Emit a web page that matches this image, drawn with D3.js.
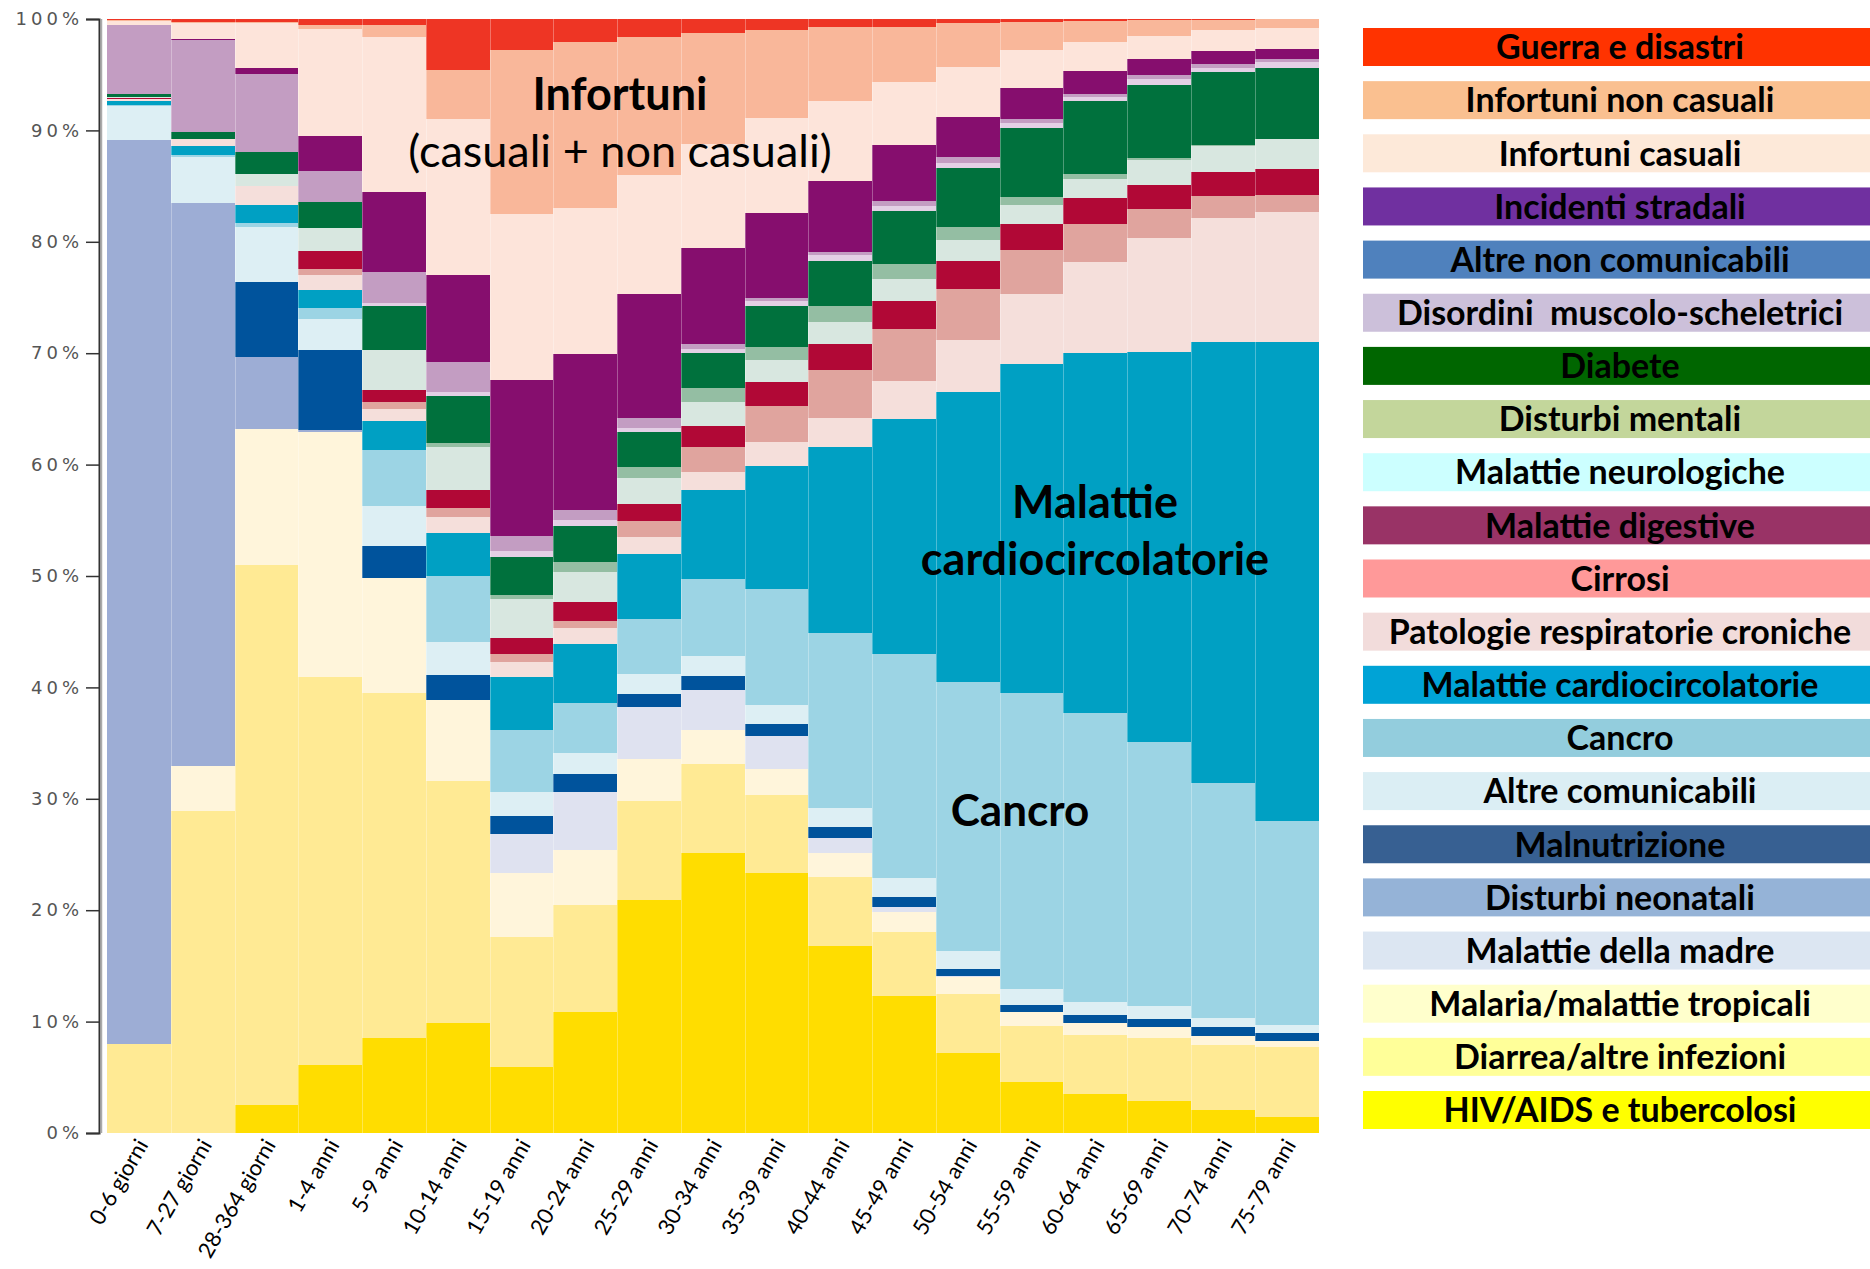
<!DOCTYPE html>
<html>
<head>
<meta charset="utf-8">
<script src="https://cdn.jsdelivr.net/npm/d3@7/dist/d3.min.js"></script>
<style>
  html, body { margin: 0; padding: 0; background: #ffffff; }
  svg { display: block; }
</style>
</head>
<body>
<svg id="chart"></svg>
<script>
// age groups (x categories)
const ageGroups = ["0-6 giorni", "7-27 giorni", "28-364 giorni", "1-4 anni", "5-9 anni", "10-14 anni",
  "15-19 anni", "20-24 anni", "25-29 anni", "30-34 anni", "35-39 anni", "40-44 anni", "45-49 anni",
  "50-54 anni", "55-59 anni", "60-64 anni", "65-69 anni", "70-74 anni", "75-79 anni"];

// share of deaths (%) per cause, one value per age group
const hivTb        = [0, 0, 2.5, 6.1, 8.5, 9.9, 5.9, 10.9, 20.9, 25.1, 23.3, 16.8, 12.3, 7.2, 4.6, 3.5, 2.9, 2.1, 1.4];
const diarrea      = [8, 28.9, 48.5, 34.8, 31.0, 21.7, 11.7, 9.6, 8.9, 8.0, 7.0, 6.2, 5.7, 5.3, 5.0, 5.3, 5.6, 5.8, 6.3];
const malaria      = [0, 4.0, 12.2, 22.0, 10.3, 7.3, 5.7, 4.9, 3.8, 3.1, 2.4, 2.1, 1.8, 1.5, 1.3, 1.1, 1.0, 0.8, 0.6];
const madre        = [0, 0, 0, 0, 0, 0, 3.5, 5.2, 4.6, 3.6, 2.9, 1.4, 0.5, 0.1, 0, 0, 0, 0, 0];
const neonatali    = [81.1, 50.6, 6.5, 0.2, 0, 0, 0, 0, 0, 0, 0, 0, 0, 0, 0, 0, 0, 0, 0];
const malnutrizione= [0, 0, 6.7, 7.2, 2.9, 2.2, 1.7, 1.6, 1.2, 1.2, 1.1, 1.0, 0.9, 0.6, 0.6, 0.7, 0.7, 0.8, 0.7];
const altreCom     = [3.1, 4.1, 4.9, 2.8, 3.6, 3.0, 2.1, 1.9, 1.8, 1.8, 1.7, 1.7, 1.7, 1.6, 1.4, 1.2, 1.2, 0.8, 0.7];
const cancro       = [0.1, 0.2, 0.4, 1.0, 5.0, 5.9, 5.6, 4.5, 4.9, 6.9, 10.4, 15.7, 20.1, 24.2, 26.6, 25.9, 23.7, 21.1, 18.3];
const cardio       = [0.3, 0.8, 1.6, 1.6, 2.6, 3.9, 4.7, 5.3, 5.9, 8.0, 11.1, 16.7, 21.1, 26.0, 29.5, 32.3, 35.0, 39.6, 43.0];
const respiratorie = [0.2, 0.6, 1.7, 1.3, 1.1, 1.4, 1.4, 1.4, 1.5, 1.6, 2.1, 2.6, 3.4, 4.7, 6.3, 8.2, 10.2, 11.1, 11.7];
const cirrosi      = [0, 0, 0, 0.6, 0.6, 0.8, 0.7, 0.7, 1.4, 2.3, 3.3, 4.3, 4.7, 4.6, 4.0, 3.4, 2.6, 2.0, 1.5];
const digestive    = [0.1, 0, 0, 1.6, 1.1, 1.6, 1.4, 1.7, 1.6, 1.9, 2.1, 2.3, 2.5, 2.5, 2.3, 2.3, 2.2, 2.2, 2.3];
const neurologiche = [0.1, 0, 1.1, 2.0, 3.6, 3.9, 3.5, 2.7, 2.3, 2.1, 2.0, 2.0, 2.0, 1.9, 1.7, 1.7, 2.2, 2.3, 2.7];
const mentali      = [0, 0, 0, 0, 0, 0.3, 0.4, 0.9, 1.0, 1.3, 1.2, 1.4, 1.3, 1.1, 0.7, 0.5, 0.2, 0.1, 0];
const diabete      = [0.3, 0.7, 2.0, 2.4, 3.9, 4.3, 3.4, 3.2, 3.1, 3.1, 3.6, 4.1, 4.8, 5.3, 6.2, 6.5, 6.6, 6.5, 6.4];
const muscolo      = [0, 0, 0, 0, 0.3, 0.3, 0.5, 0.5, 0.4, 0.4, 0.5, 0.5, 0.4, 0.5, 0.5, 0.4, 0.5, 0.4, 0.5];
const altreNonCom  = [6.2, 8.2, 7.0, 2.8, 2.8, 2.7, 1.4, 0.9, 0.9, 0.4, 0.3, 0.3, 0.5, 0.5, 0.3, 0.3, 0.4, 0.4, 0.3];
const stradali     = [0, 0.1, 0.5, 3.1, 7.2, 7.8, 14.0, 14.0, 11.1, 8.6, 7.6, 6.4, 5.0, 3.6, 2.8, 2.0, 1.4, 1.1, 0.9];
const infCasuali   = [0.3, 1.4, 4.0, 9.6, 13.9, 14.0, 14.9, 13.1, 10.7, 9.4, 8.5, 7.1, 5.6, 4.5, 3.4, 2.6, 2.1, 1.9, 1.9];
const infNonCasuali= [0.1, 0.1, 0.1, 0.4, 1.1, 4.4, 14.7, 14.9, 12.4, 9.9, 7.9, 6.7, 5.0, 3.9, 2.5, 1.9, 1.4, 0.9, 0.8];
const guerra       = [0.1, 0.3, 0.3, 0.5, 0.5, 4.6, 2.8, 2.1, 1.6, 1.3, 1.0, 0.7, 0.7, 0.4, 0.3, 0.2, 0.1, 0.1, 0];

const yTicks = [0, 0.1, 0.2, 0.3, 0.4, 0.5, 0.6, 0.7, 0.8, 0.9, 1];

// stacking order, bottom to top
const causes = [
  { key: "HIV/AIDS e tubercolosi", values: hivTb },
  { key: "Diarrea/altre infezioni", values: diarrea },
  { key: "Malaria/malattie tropicali", values: malaria },
  { key: "Malattie della madre", values: madre },
  { key: "Disturbi neonatali", values: neonatali },
  { key: "Malnutrizione", values: malnutrizione },
  { key: "Altre comunicabili", values: altreCom },
  { key: "Cancro", values: cancro },
  { key: "Malattie cardiocircolatorie", values: cardio },
  { key: "Patologie respiratorie croniche", values: respiratorie },
  { key: "Cirrosi", values: cirrosi },
  { key: "Malattie digestive", values: digestive },
  { key: "Malattie neurologiche", values: neurologiche },
  { key: "Disturbi mentali", values: mentali },
  { key: "Diabete", values: diabete },
  { key: "Disordini  muscolo-scheletrici", values: muscolo },
  { key: "Altre non comunicabili", values: altreNonCom },
  { key: "Incidenti stradali", values: stradali },
  { key: "Infortuni casuali", values: infCasuali },
  { key: "Infortuni non casuali", values: infNonCasuali },
  { key: "Guerra e disastri", values: guerra }
];

// colours used in the bars
const barColor = {
  "HIV/AIDS e tubercolosi": "#FFDD00",
  "Diarrea/altre infezioni": "#FFEA94",
  "Malaria/malattie tropicali": "#FFF5DB",
  "Malattie della madre": "#DFE2F0",
  "Disturbi neonatali": "#9DADD5",
  "Malnutrizione": "#00539C",
  "Altre comunicabili": "#DDEFF4",
  "Cancro": "#9CD4E4",
  "Malattie cardiocircolatorie": "#00A0C3",
  "Patologie respiratorie croniche": "#F5DFDB",
  "Cirrosi": "#E0A49E",
  "Malattie digestive": "#B10836",
  "Malattie neurologiche": "#D8E7E0",
  "Disturbi mentali": "#94BEA3",
  "Diabete": "#00713D",
  "Disordini  muscolo-scheletrici": "#E3D0E5",
  "Altre non comunicabili": "#C39DC2",
  "Incidenti stradali": "#860E6E",
  "Infortuni casuali": "#FDE4DA",
  "Infortuni non casuali": "#F9B79A",
  "Guerra e disastri": "#EE3524"
};

// colours used in the legend boxes
const legendColor = {
  "HIV/AIDS e tubercolosi": "#FFFF00",
  "Diarrea/altre infezioni": "#FFFF99",
  "Malaria/malattie tropicali": "#FFFFCC",
  "Malattie della madre": "#DCE6F2",
  "Disturbi neonatali": "#95B3D7",
  "Malnutrizione": "#376092",
  "Altre comunicabili": "#DBEEF4",
  "Cancro": "#93CDDD",
  "Malattie cardiocircolatorie": "#00A3D6",
  "Patologie respiratorie croniche": "#F2DCDB",
  "Cirrosi": "#FF9999",
  "Malattie digestive": "#993366",
  "Malattie neurologiche": "#CCFFFF",
  "Disturbi mentali": "#C3D69B",
  "Diabete": "#006600",
  "Disordini  muscolo-scheletrici": "#CCC0DA",
  "Altre non comunicabili": "#4F81BD",
  "Incidenti stradali": "#7030A0",
  "Infortuni casuali": "#FDE9D9",
  "Infortuni non casuali": "#FAC090",
  "Guerra e disastri": "#FF3300"
};

const width = 1870, height = 1269;
const plot = { left: 107, right: 1318.5, top: 19, bottom: 1133 };

const svg = d3.select("#chart").attr("width", width).attr("height", height);

const rows = ageGroups.map((age, i) => {
  const r = { age };
  causes.forEach(c => { r[c.key] = c.values[i]; });
  return r;
});

const stack = d3.stack()
  .keys(causes.map(c => c.key))
  .offset(d3.stackOffsetExpand);
const series = stack(rows);

const x = d3.scaleBand().domain(ageGroups).range([plot.left, plot.right]).padding(0);
const y = d3.scaleLinear().domain([0, 1]).range([plot.bottom, plot.top]);

// bars
svg.append("g")
  .selectAll("g")
  .data(series)
  .enter()
  .append("g")
  .attr("fill", d => barColor[d.key])
  .selectAll("rect")
  .data(d => d)
  .enter()
  .append("rect")
  .attr("x", d => x(d.data.age))
  .attr("y", d => y(d[1]))
  .attr("width", x.bandwidth())
  .attr("height", d => Math.max(0, y(d[0]) - y(d[1])))
  .attr("shape-rendering", "crispEdges");

// faint separators between columns
svg.append("g")
  .selectAll("line")
  .data(ageGroups.slice(1))
  .enter()
  .append("line")
  .attr("x1", d => Math.round(x(d)) + 0.5)
  .attr("x2", d => Math.round(x(d)) + 0.5)
  .attr("y1", plot.top)
  .attr("y2", plot.bottom)
  .attr("stroke", "#ffffff")
  .attr("stroke-opacity", 0.3);

// y axis
const yAxis = svg.append("g")
  .attr("transform", `translate(99,0)`)
  .call(d3.axisLeft(y).tickValues(yTicks).tickFormat(d3.format(".0%")).tickSize(13).tickPadding(3));
yAxis.select(".domain").attr("stroke", "#333").attr("stroke-width", 2);
yAxis.selectAll(".tick line").attr("stroke", "#333").attr("stroke-width", 1.5);
yAxis.selectAll(".tick text")
  .attr("fill", "#555")
  .style("font-family", "'DejaVu Sans', sans-serif")
  .style("font-size", "18px")
  .style("letter-spacing", "4px");
svg.append("line")
  .attr("x1", 101.5).attr("x2", 101.5)
  .attr("y1", plot.top).attr("y2", plot.bottom)
  .attr("stroke", "#aaa").attr("stroke-width", 1.5);

// x labels, rotated
svg.append("g")
  .selectAll("text")
  .data(ageGroups)
  .enter()
  .append("text")
  .attr("transform", d => `translate(${x(d) + x.bandwidth() / 2 + 10},${plot.bottom + 12}) rotate(-60)`)
  .attr("text-anchor", "end")
  .style("font-family", "Lato, sans-serif")
  .style("font-size", "22px")
  .attr("fill", "#000")
  .text(d => d);

// annotations inside the chart
const note = svg.append("g").attr("fill", "#000").attr("text-anchor", "middle")
  .style("font-family", "Lato, sans-serif");
note.append("text").attr("x", 620).attr("y", 110).style("font-size", "45px").style("font-weight", "bold").text("Infortuni");
note.append("text").attr("x", 620).attr("y", 167).style("font-size", "45px").text("(casuali + non casuali)");
note.append("text").attr("x", 1095).attr("y", 518).style("font-size", "45px").style("font-weight", "bold").text("Malattie");
note.append("text").attr("x", 1095).attr("y", 575).style("font-size", "45px").style("font-weight", "bold").text("cardiocircolatorie");
note.append("text").attr("x", 1020).attr("y", 826).style("font-size", "44px").style("font-weight", "bold").text("Cancro");

// legend, top-down
const legendKeys = causes.map(c => c.key).reverse();
const ly = d3.scalePoint().domain(legendKeys).range([47, 1110]);
const legend = svg.append("g")
  .selectAll("g")
  .data(legendKeys)
  .enter()
  .append("g")
  .attr("transform", d => `translate(1363,${ly(d)})`);
legend.append("rect")
  .attr("x", 0).attr("y", -19)
  .attr("width", 510).attr("height", 38)
  .attr("fill", d => legendColor[d]);
legend.append("text")
  .attr("x", 257).attr("y", 0).attr("dy", "0.36em")
  .attr("text-anchor", "middle")
  .style("font-family", "Lato, sans-serif")
  .style("font-weight", "bold")
  .style("font-size", "34px")
  .style("white-space", "pre")
  .attr("fill", "#000")
  .text(d => d);
</script>
</body>
</html>
